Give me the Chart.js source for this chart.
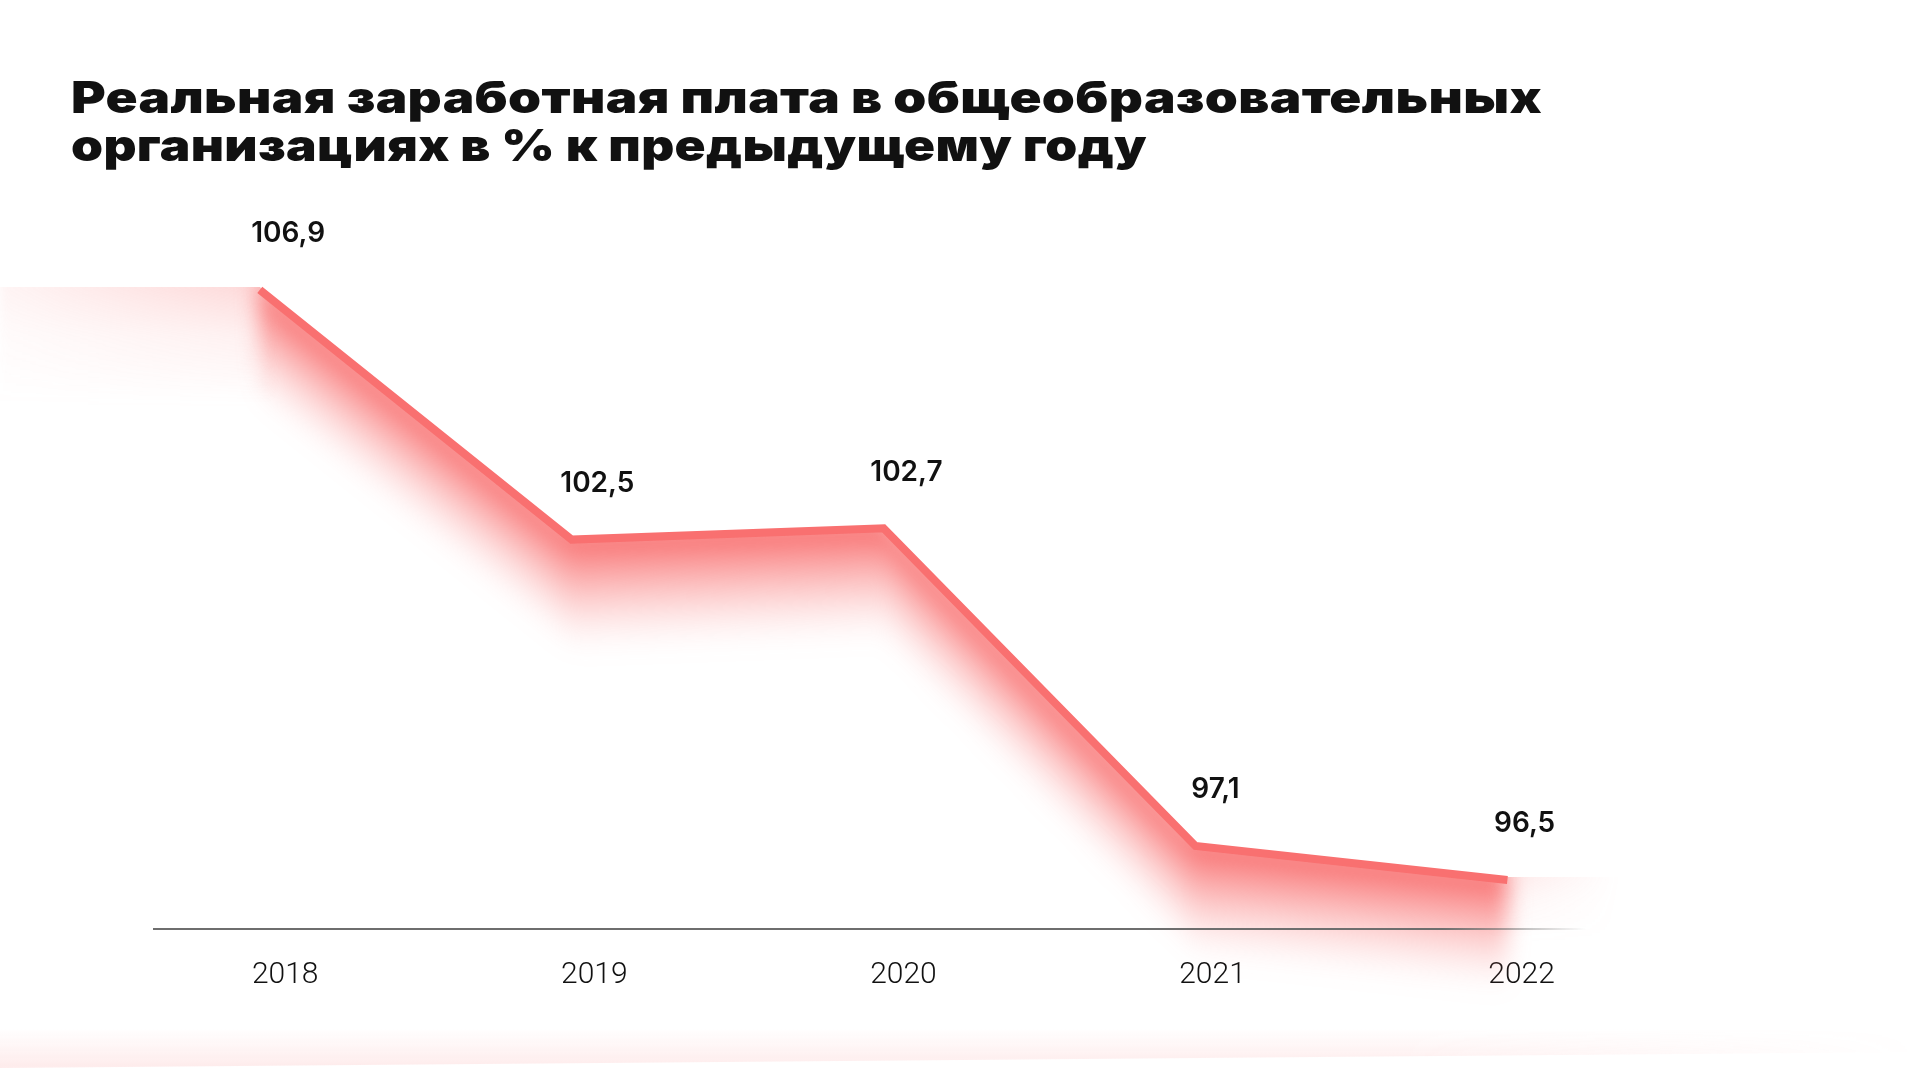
<!DOCTYPE html>
<html>
<head>
<meta charset="utf-8">
<script src="https://cdn.jsdelivr.net/npm/chart.js@4"></script>
<style>
html,body{margin:0;padding:0;background:#fff;width:1920px;height:1080px;overflow:hidden;}
#wrap{position:absolute;left:0;top:0;width:1920px;height:1080px;}
#title{position:absolute;left:71px;top:73px;margin:0;font-family:Inter,sans-serif;font-weight:900;font-size:44px;line-height:48px;color:#111;white-space:nowrap;letter-spacing:0.3px;}
#title span{display:inline-block;transform-origin:0 0;}
</style>
</head>
<body>
<div id="wrap"><canvas id="c" width="1920" height="1080"></canvas></div>
<h1 id="title"><span id="t1">Реальная заработная плата в общеобразовательных</span><br><span id="t2">организациях в % к предыдущему году</span></h1>
<script>
// ---- data ----
const years = ['2018', '2019', '2020', '2021', '2022'];
const values = [106.9, 102.5, 102.7, 97.1, 96.5];
const valueLabels = ['106,9', '102,5', '102,7', '97,1', '96,5'];

const LINE_COLOR = '#F97070';
const GLOW = 'rgba(248,110,110,';

// widen the title lines (the reference uses a wide geometric face)
(function fitTitle() {
  [['t1', 1471], ['t2', 1076]].forEach(([id, target]) => {
    const el = document.getElementById(id);
    const w = el.getBoundingClientRect().width;
    el.style.transform = 'scaleX(' + (target / w).toFixed(4) + ')';
  });
})();

function maskedBand(W, H, x0, x1, y0, y1, topAlpha, hStops) {
  const off = document.createElement('canvas');
  off.width = W; off.height = H;
  const c = off.getContext('2d');
  const gv = c.createLinearGradient(0, y0, 0, y1);
  gv.addColorStop(0, GLOW + topAlpha + ')');
  gv.addColorStop(0.45, GLOW + (topAlpha * 0.35) + ')');
  gv.addColorStop(1, GLOW + '0)');
  c.fillStyle = gv;
  c.fillRect(x0, y0, x1 - x0, y1 - y0);
  c.globalCompositeOperation = 'destination-in';
  const gh = c.createLinearGradient(x0, 0, x1, 0);
  hStops.forEach(s => gh.addColorStop(s[0], 'rgba(0,0,0,' + s[1] + ')'));
  c.fillStyle = gh;
  c.fillRect(x0, y0, x1 - x0, y1 - y0);
  return off;
}

const glowPlugin = {
  id: 'glow',
  beforeDatasetsDraw(chart) {
    const ctx = chart.ctx;
    const W = chart.width, H = chart.height;
    const pts = chart.getDatasetMeta(0).data.map(p => ({ x: p.x, y: p.y }));
    const n = pts.length;

    // bottom faint band
    const off2 = document.createElement('canvas');
    off2.width = W; off2.height = H;
    const c2 = off2.getContext('2d');
    const g2 = c2.createLinearGradient(0, 1028, 0, 1066);
    g2.addColorStop(0, GLOW + '0)');
    g2.addColorStop(1, GLOW + '0.13)');
    c2.beginPath();
    c2.moveTo(0, 1028); c2.lineTo(W, 1014); c2.lineTo(W, 1052); c2.lineTo(0, 1068); c2.closePath();
    c2.fillStyle = g2; c2.fill();
    c2.globalCompositeOperation = 'destination-in';
    const gh = c2.createLinearGradient(0, 0, W, 0);
    gh.addColorStop(0, 'rgba(0,0,0,1)');
    gh.addColorStop(1400 / W, 'rgba(0,0,0,1)');
    gh.addColorStop(1, 'rgba(0,0,0,0)');
    c2.fillStyle = gh; c2.fillRect(0, 0, W, H);
    ctx.drawImage(off2, 0, 0);

    ctx.save();
    // clip to area below the line
    ctx.beginPath();
    ctx.moveTo(0, pts[0].y - 3);
    pts.forEach(p => ctx.lineTo(p.x, p.y - 3));
    ctx.lineTo(W, pts[n - 1].y - 3);
    ctx.lineTo(W, H); ctx.lineTo(0, H); ctx.closePath();
    ctx.clip();

    // side extension bands (softened)
    const p0 = pts[0];
    const pn = pts[n - 1];
    ctx.filter = 'blur(5px)';
    ctx.drawImage(maskedBand(W, H, -10, p0.x + 15, p0.y - 12, p0.y + 115, 0.3,
      [[0, 0.25], [0.15, 0.35], [0.6, 0.7], [1, 1]]), 0, 0);
    ctx.drawImage(maskedBand(W, H, pn.x - 20, pn.x + 110, pn.y - 12, pn.y + 60, 0.16,
      [[0, 1], [0.2, 1], [1, 0]]), 0, 0);
    ctx.filter = 'none';

    // main glow (vertical smear of the line), blurred
    const off = document.createElement('canvas');
    off.width = W; off.height = H;
    const c = off.getContext('2d');
    const DEPTH = 120, STEP = 2;
    for (let d = -12; d < DEPTH; d += STEP) {
      const a = d < 0 ? 0.95 : 0.95 * Math.pow(1 - d / DEPTH, 1.8);
      c.beginPath();
      pts.forEach((p, i) => i ? c.lineTo(p.x, p.y + d) : c.moveTo(p.x, p.y + d));
      for (let i = n - 1; i >= 0; i--) c.lineTo(pts[i].x, pts[i].y + d + STEP + 0.5);
      c.closePath();
      c.fillStyle = GLOW + a + ')';
      c.fill();
    }
    ctx.filter = 'blur(11px)';
    ctx.drawImage(off, 0, 0);
    ctx.filter = 'none';
    ctx.restore();

    // x axis line fading to the right
    const ca = chart.chartArea;
    const ga = ctx.createLinearGradient(ca.left, 0, ca.right, 0);
    ga.addColorStop(0, 'rgba(110,110,110,1)');
    ga.addColorStop(0.9, 'rgba(110,110,110,1)');
    ga.addColorStop(1, 'rgba(110,110,110,0)');
    ctx.save();
    ctx.strokeStyle = ga;
    ctx.lineWidth = 2;
    ctx.beginPath();
    ctx.moveTo(ca.left, ca.bottom);
    ctx.lineTo(ca.right, ca.bottom);
    ctx.stroke();
    ctx.restore();
  }
};

const labelPlugin = {
  id: 'valueLabels',
  afterDatasetsDraw(chart) {
    const ctx = chart.ctx;
    const xs = chart.scales.x2, ys = chart.scales.y;
    ctx.save();
    ctx.font = '600 28px Inter';
    ctx.fillStyle = '#111';
    ctx.textAlign = 'center';
    ctx.textBaseline = 'middle';
    values.forEach((v, i) => {
      ctx.fillText(valueLabels[i], xs.getPixelForValue(i) + 3, ys.getPixelForValue(v) - 56);
    });
    ctx.restore();
  }
};

new Chart(document.getElementById('c'), {
  type: 'line',
  data: {
    datasets: [{
      data: values.map((v, i) => ({ x: i, y: v })),
      borderColor: LINE_COLOR,
      borderWidth: 8,
      borderCapStyle: 'butt',
      borderJoinStyle: 'miter',
      pointRadius: 0,
      tension: 0,
      fill: false,
      xAxisID: 'x',
      yAxisID: 'y'
    }]
  },
  options: {
    responsive: false,
    animation: false,
    devicePixelRatio: 1,
    layout: { padding: { left: 153, right: 334, top: 200, bottom: 87 } },
    plugins: { legend: { display: false }, tooltip: { enabled: false }, title: { display: false } },
    scales: {
      x: { type: 'linear', min: -0.3424, max: 4.252, display: false },
      x2: {
        type: 'linear', position: 'bottom', min: -0.4277, max: 4.2083,
        grid: { display: false, drawTicks: false },
        border: { display: false },
        afterBuildTicks: s => { s.ticks = years.map((_, i) => ({ value: i })); },
        afterFit: s => { s.height = 64; },
        ticks: {
          callback: (v, i) => years[i],
          font: { family: 'Roboto', weight: 300, size: 30 },
          color: '#111',
          padding: 28,
          maxRotation: 0,
          autoSkip: false
        }
      },
      y: { display: false, min: 95.636, max: 108.486 }
    }
  },
  plugins: [glowPlugin, labelPlugin]
});
</script>
</body>
</html>
